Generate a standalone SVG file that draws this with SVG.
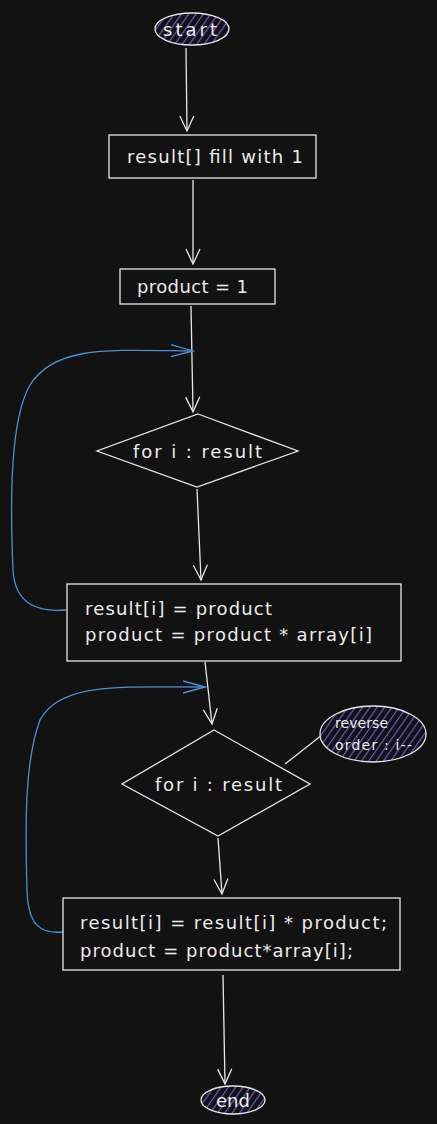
<svg xmlns="http://www.w3.org/2000/svg" width="437" height="1124" viewBox="0 0 437 1124">
<style>
.bg{fill:#121212}
.box{fill:#121212;stroke:#e6e6e6;stroke-width:1.3}
.pill{fill:url(#hatch);stroke:#e6e6e6;stroke-width:1.3}
.t{font-family:"DejaVu Sans","Liberation Sans",Arial,sans-serif;fill:#ececec;font-size:18px}
.ts{font-family:"DejaVu Sans","Liberation Sans",Arial,sans-serif;fill:#ececec;font-size:14px}
.c{dominant-baseline:central}
.w{fill:none;stroke:#e6e6e6;stroke-width:1.3}
.b{fill:none;stroke:#4a90d9;stroke-width:1.3}
</style>
<defs>
<pattern id="hatch" patternUnits="userSpaceOnUse" width="6" height="6" patternTransform="rotate(35)">
<rect width="6" height="6" fill="#121212"/>
<line x1="0" y1="0" x2="0" y2="6" stroke="#6a5acd" stroke-width="2.4"/>
</pattern>
<marker id="aw" markerWidth="20" markerHeight="20" refX="16" refY="10" orient="auto" markerUnits="userSpaceOnUse">
<path d="M1,3 L16,10 L1,17" fill="none" stroke="#e6e6e6" stroke-width="1.3"/>
</marker>
<marker id="ab" markerWidth="26" markerHeight="20" refX="24" refY="10" orient="auto" markerUnits="userSpaceOnUse">
<path d="M2,4 L24,10 L2,16" fill="none" stroke="#4a90d9" stroke-width="1.3"/>
</marker>
</defs>
<rect class="bg" width="437" height="1124"/>
<g id="connectors">
<path class="w" d="M186,48 L187,131" marker-end="url(#aw)"/>
<path class="w" d="M193,180 L193,264" marker-end="url(#aw)"/>
<path class="w" d="M191,306 L193,412" marker-end="url(#aw)"/>
<path class="w" d="M197,489 L201,580" marker-end="url(#aw)"/>
<path class="w" d="M205,662 L212,724" marker-end="url(#aw)"/>
<path class="w" d="M218,838 L222,894" marker-end="url(#aw)"/>
<path class="w" d="M223,975 L225,1084" marker-end="url(#aw)"/>
<path class="w" d="M285,764 L322,735"/>
<path class="b" d="M66,610 C40,612 15,606 13,570 C10,500 10,420 30,385 C55,345 110,350 193,351" marker-end="url(#ab)"/>
<path class="b" d="M63,932 C40,934 28,925 27,890 C25,820 25,760 40,720 C60,682 120,687 205,687" marker-end="url(#ab)"/>
</g>
<g id="start">
<ellipse class="pill" cx="192" cy="29" rx="37" ry="16"/>
<text class="t c" x="163" y="29" textLength="54" lengthAdjust="spacing">start</text>
</g>
<g id="fill">
<rect class="box" x="109" y="135" width="207" height="43"/>
<text class="t c" x="127" y="156" textLength="176" lengthAdjust="spacing">result[] fill with 1</text>
</g>
<g id="product1">
<rect class="box" x="120" y="269" width="155" height="35"/>
<text class="t c" x="137" y="286" textLength="111" lengthAdjust="spacing">product = 1</text>
</g>
<g id="loop1">
<polygon class="box" points="198,414 298,451 197,487 97,451"/>
<text class="t c" x="133" y="451" textLength="129" lengthAdjust="spacing">for i : result</text>
</g>
<g id="body1">
<rect class="box" x="67" y="584" width="334" height="77"/>
<text class="t c" x="85" y="608" textLength="187" lengthAdjust="spacing">result[i] = product</text>
<text class="t c" x="85" y="634" textLength="287" lengthAdjust="spacing">product = product * array[i]</text>
</g>
<g id="loop2">
<polygon class="box" points="214,730 310,784 218,836 122,784"/>
<text class="t c" x="155" y="784" textLength="127" lengthAdjust="spacing">for i : result</text>
</g>
<g id="note">
<ellipse class="pill" cx="373" cy="734" rx="53" ry="28"/>
<text class="ts c" x="335" y="723" textLength="53" lengthAdjust="spacing">reverse</text>
<text class="ts c" x="335" y="745" textLength="77" lengthAdjust="spacing">order : i--</text>
</g>
<g id="body2">
<rect class="box" x="63" y="898" width="337" height="72"/>
<text class="t c" x="80" y="922" textLength="307" lengthAdjust="spacing">result[i] = result[i] * product;</text>
<text class="t c" x="80" y="950" textLength="273" lengthAdjust="spacing">product = product*array[i];</text>
</g>
<g id="end">
<ellipse class="pill" cx="233" cy="1100" rx="32" ry="14"/>
<text class="t c" x="233" y="1100" text-anchor="middle" font-size="17">end</text>
</g>
</svg>
